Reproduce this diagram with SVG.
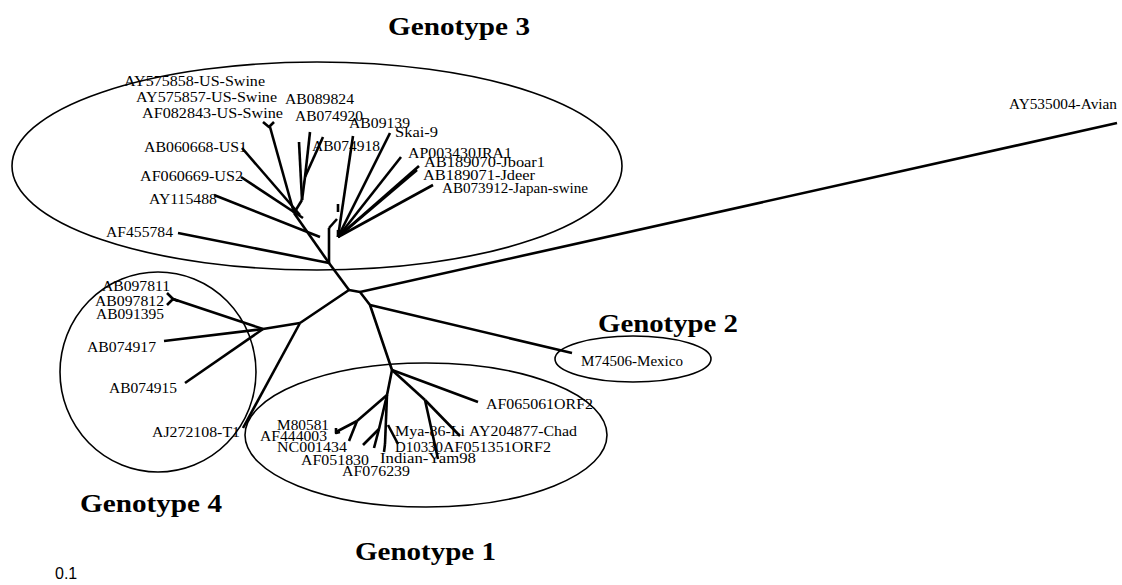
<svg xmlns="http://www.w3.org/2000/svg" width="1122" height="585" viewBox="0 0 1122 585">
<style>
.l{font-family:"Liberation Serif","Times New Roman",serif;font-size:14px;fill:#000}
.t{font-family:"Liberation Serif","Times New Roman",serif;font-size:25px;font-weight:bold;fill:#000}
.s{font-family:"Liberation Sans",Arial,sans-serif;font-size:16px;fill:#000}
.e{fill:none;stroke:#000;stroke-width:1.6}
.b{fill:none;stroke:#000;stroke-width:2.6;stroke-linecap:butt;stroke-linejoin:round}
</style>
<rect width="1122" height="585" fill="#fff"/>
<g id="clusters">
<ellipse id="g3" class="e" cx="317" cy="166" rx="305" ry="104"/>
<ellipse id="g4" class="e" cx="158" cy="372" rx="98" ry="100"/>
<ellipse id="g1" class="e" cx="426" cy="435" rx="181" ry="72"/>
<ellipse id="g2" class="e" cx="633" cy="359" rx="78" ry="23"/>
</g>
<g id="connectors" class="b">
<polyline points="300,323 349,290 360,292 370,305 392,370"/>
<line x1="349" y1="290" x2="329" y2="263"/>
<line x1="360" y1="292" x2="1117" y2="123"/>
<line x1="370" y1="305" x2="572" y2="353"/>
<line x1="329" y1="263" x2="329" y2="228"/>
<line x1="329" y1="228" x2="337" y2="219"/>
<line x1="338" y1="204" x2="338" y2="212"/>
<line x1="338" y1="237" x2="338" y2="230"/>
<line x1="338" y1="237" x2="353" y2="136"/>
<line x1="338" y1="237" x2="390" y2="133"/>
<line x1="338" y1="237" x2="401" y2="157"/>
<line x1="338" y1="237" x2="419" y2="166"/>
<line x1="338" y1="237" x2="417" y2="170"/>
<line x1="338" y1="237" x2="433" y2="185"/>
<line x1="178" y1="233" x2="329" y2="263"/>
<line x1="329" y1="263" x2="294" y2="213"/>
<line x1="214" y1="195" x2="320" y2="237"/>
<line x1="241" y1="177" x2="303" y2="218"/>
<line x1="242" y1="148" x2="300" y2="215"/>
<line x1="294" y1="213" x2="270" y2="127"/>
<polyline points="263,122 269,127 274,122"/>
<line x1="294" y1="213" x2="302" y2="200"/>
<line x1="302" y1="200" x2="299" y2="142"/>
<line x1="302" y1="200" x2="305" y2="177"/>
<line x1="305" y1="177" x2="310" y2="132"/>
<line x1="305" y1="177" x2="323" y2="137"/>
<line x1="300" y1="323" x2="263" y2="329"/>
<line x1="300" y1="323" x2="243" y2="428"/>
<line x1="263" y1="329" x2="173" y2="299"/>
<line x1="263" y1="329" x2="164" y2="341"/>
<line x1="263" y1="329" x2="185" y2="383"/>
<polyline points="167,293 173,299 167,305"/>
<line x1="173" y1="299" x2="178" y2="301"/>
<line x1="392" y1="370" x2="478" y2="402"/>
<line x1="392" y1="370" x2="425" y2="400"/>
<line x1="425" y1="400" x2="460" y2="436"/>
<line x1="425" y1="400" x2="438" y2="459"/>
<line x1="392" y1="370" x2="387" y2="395"/>
<line x1="387" y1="395" x2="357" y2="421"/>
<line x1="357" y1="421" x2="336" y2="432"/>
<line x1="357" y1="421" x2="349" y2="441"/>
<polyline points="336,428 336,433 340,432"/>
<line x1="387" y1="395" x2="385" y2="444"/>
<line x1="385" y1="444" x2="384" y2="452"/>
<line x1="387" y1="395" x2="379" y2="429"/>
<line x1="379" y1="429" x2="363" y2="445"/>
<line x1="379" y1="429" x2="374" y2="448"/>
<line x1="388" y1="425" x2="398" y2="444"/>
</g>
<g id="labels">
<text class="l" x="124" y="86" textLength="141" lengthAdjust="spacingAndGlyphs">AY575858-US-Swine</text>
<text class="l" x="136" y="102" textLength="141" lengthAdjust="spacingAndGlyphs">AY575857-US-Swine</text>
<text class="l" x="142" y="118" textLength="141" lengthAdjust="spacingAndGlyphs">AF082843-US-Swine</text>
<text class="l" x="144" y="152" textLength="103" lengthAdjust="spacingAndGlyphs">AB060668-US1</text>
<text class="l" x="140" y="181" textLength="103" lengthAdjust="spacingAndGlyphs">AF060669-US2</text>
<text class="l" x="149" y="204" textLength="68" lengthAdjust="spacingAndGlyphs">AY115488</text>
<text class="l" x="106" y="237" textLength="67" lengthAdjust="spacingAndGlyphs">AF455784</text>
<text class="l" x="285" y="104" textLength="69" lengthAdjust="spacingAndGlyphs">AB089824</text>
<text class="l" x="295" y="121" textLength="68" lengthAdjust="spacingAndGlyphs">AB074920</text>
<text class="l" x="349" y="128" textLength="61" lengthAdjust="spacingAndGlyphs">AB09139</text>
<text class="l" x="395" y="137" textLength="43" lengthAdjust="spacingAndGlyphs">Skai-9</text>
<text class="l" x="312" y="151" textLength="68" lengthAdjust="spacingAndGlyphs">AB074918</text>
<text class="l" x="408" y="158" textLength="104" lengthAdjust="spacingAndGlyphs">AP003430JRA1</text>
<text class="l" x="424" y="167" textLength="121" lengthAdjust="spacingAndGlyphs">AB189070-Jboar1</text>
<text class="l" x="423" y="180" textLength="112" lengthAdjust="spacingAndGlyphs">AB189071-Jdeer</text>
<text class="l" x="442" y="193" textLength="146" lengthAdjust="spacingAndGlyphs">AB073912-Japan-swine</text>
<text class="l" x="102" y="291" textLength="68" lengthAdjust="spacingAndGlyphs">AB097811</text>
<text class="l" x="95" y="306" textLength="69" lengthAdjust="spacingAndGlyphs">AB097812</text>
<text class="l" x="96" y="319" textLength="68" lengthAdjust="spacingAndGlyphs">AB091395</text>
<text class="l" x="87" y="352" textLength="69" lengthAdjust="spacingAndGlyphs">AB074917</text>
<text class="l" x="109" y="393" textLength="68" lengthAdjust="spacingAndGlyphs">AB074915</text>
<text class="l" x="152" y="437" textLength="88" lengthAdjust="spacingAndGlyphs">AJ272108-T1</text>
<text class="l" x="277" y="430" textLength="52" lengthAdjust="spacingAndGlyphs">M80581</text>
<text class="l" x="260" y="441" textLength="67" lengthAdjust="spacingAndGlyphs">AF444003</text>
<text class="l" x="277" y="452" textLength="70" lengthAdjust="spacingAndGlyphs">NC001434</text>
<text class="l" x="301" y="465" textLength="68" lengthAdjust="spacingAndGlyphs">AF051830</text>
<text class="l" x="342" y="476" textLength="68" lengthAdjust="spacingAndGlyphs">AF076239</text>
<text class="l" x="395" y="436" textLength="70" lengthAdjust="spacingAndGlyphs">Mya-86-Li</text>
<text class="l" x="469" y="436" textLength="108" lengthAdjust="spacingAndGlyphs">AY204877-Chad</text>
<text class="l" x="395" y="452" textLength="48" lengthAdjust="spacingAndGlyphs">D10330</text>
<text class="l" x="443" y="452" textLength="108" lengthAdjust="spacingAndGlyphs">AF051351ORF2</text>
<text class="l" x="380" y="463" textLength="96" lengthAdjust="spacingAndGlyphs">Indian-Yam98</text>
<text class="l" x="486" y="409" textLength="107" lengthAdjust="spacingAndGlyphs">AF065061ORF2</text>
<text class="l" x="581" y="366" textLength="102" lengthAdjust="spacingAndGlyphs">M74506-Mexico</text>
<text class="l" x="1009" y="109" textLength="108" lengthAdjust="spacingAndGlyphs">AY535004-Avian</text>
</g>
<g id="titles">
<text class="t" x="388" y="35" textLength="142" lengthAdjust="spacingAndGlyphs">Genotype 3</text>
<text class="t" x="598" y="332" textLength="140" lengthAdjust="spacingAndGlyphs">Genotype 2</text>
<text class="t" x="80" y="512" textLength="142" lengthAdjust="spacingAndGlyphs">Genotype 4</text>
<text class="t" x="355" y="560" textLength="141" lengthAdjust="spacingAndGlyphs">Genotype 1</text>
<text class="s" x="55" y="579">0.1</text>
</g>
</svg>
